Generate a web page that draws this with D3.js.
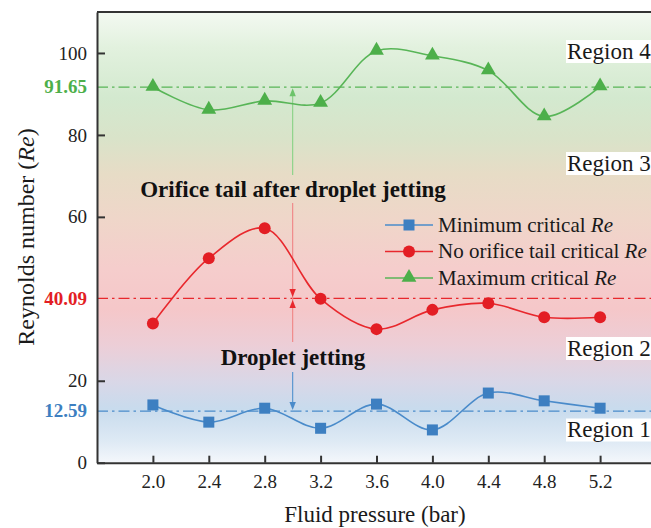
<!DOCTYPE html>
<html>
<head>
<meta charset="utf-8">
<script src="https://cdn.jsdelivr.net/npm/d3@7/dist/d3.min.js"></script>
<style>
  body { margin: 0; background: #fff; }
  text { font-family: "Liberation Serif", "Times New Roman", serif; }
</style>
</head>
<body>
<div id="chart"></div>
<script>
'use strict';

// fluid pressure (bar)
var pressure = [2.0, 2.4, 2.8, 3.2, 3.6, 4.0, 4.4, 4.8, 5.2];
var minRe = [14.1, 9.9, 13.3, 8.4, 14.3, 8.0, 17.0, 15.1, 13.3];
var noTailRe = [34.0, 49.9, 57.2, 40.0, 32.6, 37.3, 38.9, 35.5, 35.5];
var maxRe = [91.7, 86.1, 88.3, 87.8, 100.5, 99.3, 95.7, 84.5, 91.8];
var meanLines = [12.59, 40.09, 91.65];
var yTicks = [0, 20, 60, 80, 100];
var regions = ['Region 4', 'Region 3', 'Region 2', 'Region 1'];
var regionY = [51.5, 163.5, 348.5, 430];

var W = 651, H = 528;
var plotLeft = 97, plotTop = 12, plotRight = 656, plotBottom = 462.7;

var x = d3.scaleLinear().domain([1.6, 5.6]).range([plotLeft, plotRight]);
var y = d3.scaleLinear().domain([0, 110]).range([plotBottom, plotTop]);

var series = [
    { name: 'Minimum critical ', values: minRe, color: '#3d7fc1', line: '#4a8bca', mark: 'square', mean: meanLines[0] },
    { name: 'No orifice tail critical ', values: noTailRe, color: '#e31e24', line: '#e8282d', mark: 'circle', mean: meanLines[1] },
    { name: 'Maximum critical ', values: maxRe, color: '#4daf4a', line: '#58b557', mark: 'triangle', mean: meanLines[2] }
];

var svg = d3.select('#chart').append('svg').attr('width', W).attr('height', H);

// background gradient of the plot
var grad = svg.append('defs').append('linearGradient')
    .attr('id', 'bg').attr('x1', 0).attr('y1', 0).attr('x2', 0).attr('y2', 1);
[
    [0.00, '#f3f9f1'], [0.08, '#e2f1de'], [0.19, '#d3e9cf'], [0.28, '#d9e3c9'],
    [0.36, '#e7dcc6'], [0.46, '#efd6c9'], [0.57, '#f5cdcc'], [0.66, '#f5c7c9'],
    [0.74, '#ecced7'], [0.82, '#d9d7e7'], [0.88, '#c8dbed'], [0.95, '#dde9f4'],
    [1.00, '#f4f7fb']
].forEach(function (s) {
    grad.append('stop').attr('offset', s[0]).attr('stop-color', s[1]);
});

svg.append('rect')
    .attr('x', plotLeft).attr('y', plotTop)
    .attr('width', plotRight - plotLeft).attr('height', plotBottom - plotTop)
    .attr('fill', 'url(#bg)');

// dash-dot mean lines
series.forEach(function (s) {
    svg.append('line')
        .attr('x1', plotLeft).attr('x2', plotRight)
        .attr('y1', y(s.mean)).attr('y2', y(s.mean))
        .attr('stroke', s.line).attr('stroke-width', 1.3)
        .attr('stroke-dasharray', '11,4,2.5,4');
    svg.append('text')
        .attr('x', 87).attr('y', y(s.mean)).attr('dy', '0.33em')
        .attr('text-anchor', 'end')
        .attr('font-size', 19).attr('font-weight', 'bold')
        .attr('fill', s.color)
        .text(s.mean.toFixed(2));
});

// region labels with white boxes
regions.forEach(function (r, i) {
    svg.append('rect')
        .attr('x', 566).attr('y', regionY[i] - 11.5)
        .attr('width', 90).attr('height', 23).attr('fill', '#fff');
    svg.append('text')
        .attr('x', 567).attr('y', regionY[i]).attr('dy', '0.32em')
        .attr('font-size', 23).attr('fill', '#1a1a1a')
        .text(r);
});

// arrows at 3.0 bar
var ax = x(3.0);
function arrowHead(tipY, dir, color) {
    var h = 8, w = 3.2;
    svg.append('path')
        .attr('d', 'M' + ax + ',' + tipY + 'L' + (ax - w) + ',' + (tipY - dir * h) + 'L' + (ax + w) + ',' + (tipY - dir * h) + 'Z')
        .attr('fill', color);
}
svg.append('line').attr('x1', ax).attr('x2', ax).attr('y1', 175).attr('y2', y(meanLines[2]) + 4)
    .attr('stroke', '#8ed38a').attr('stroke-width', 1.2);
arrowHead(y(meanLines[2]) + 1, -1, '#6cc46a');
svg.append('line').attr('x1', ax).attr('x2', ax).attr('y1', 203).attr('y2', 342)
    .attr('stroke', '#f08a8a').attr('stroke-width', 1.2);
arrowHead(y(meanLines[1]) - 1.5, 1, '#e8282d');
arrowHead(y(meanLines[1]) + 1.5, -1, '#e8282d');
svg.append('line').attr('x1', ax).attr('x2', ax).attr('y1', 372).attr('y2', y(meanLines[0]) - 4)
    .attr('stroke', '#5b97d0').attr('stroke-width', 1.2);
arrowHead(y(meanLines[0]) - 1, 1, '#4a8bca');

// annotations
svg.append('text').attr('x', 293).attr('y', 197).attr('text-anchor', 'middle')
    .attr('font-size', 23).attr('font-weight', 'bold').attr('fill', '#111')
    .text('Orifice tail after droplet jetting');
svg.append('text').attr('x', 293).attr('y', 365).attr('text-anchor', 'middle')
    .attr('font-size', 23).attr('font-weight', 'bold').attr('fill', '#111')
    .text('Droplet jetting');

// series lines and markers
var line = d3.line()
    .x(function (d, i) { return x(pressure[i]); })
    .y(function (d) { return y(d); })
    .curve(d3.curveCatmullRom.alpha(0.5));

function marker(g, type, cx, cy, color) {
    if (type === 'square') {
        g.append('rect').attr('x', cx - 5.5).attr('y', cy - 5.5).attr('width', 11).attr('height', 11).attr('fill', color);
    } else if (type === 'circle') {
        g.append('circle').attr('cx', cx).attr('cy', cy).attr('r', 6).attr('fill', color);
    } else {
        g.append('path').attr('d', d3.symbol(d3.symbolTriangle, 95)()).attr('transform', 'translate(' + cx + ',' + (cy - 0.5) + ')').attr('fill', color);
    }
}

series.forEach(function (s) {
    svg.append('path').datum(s.values)
        .attr('d', line).attr('fill', 'none')
        .attr('stroke', s.line).attr('stroke-width', 1.6);
    var g = svg.append('g');
    s.values.forEach(function (v, i) {
        marker(g, s.mark, x(pressure[i]), y(v), s.color);
    });
});

// legend
series.forEach(function (s, i) {
    var ly = 225 + i * 26.5;
    var g = svg.append('g');
    g.append('line').attr('x1', 385).attr('x2', 433).attr('y1', ly).attr('y2', ly)
        .attr('stroke', s.line).attr('stroke-width', 1.6);
    marker(g, s.mark, 409, ly, s.color);
    var t = g.append('text').attr('x', 438).attr('y', ly).attr('dy', '0.33em')
        .attr('font-size', 21).attr('fill', '#1a1a1a');
    t.append('tspan').text(s.name);
    t.append('tspan').attr('font-style', 'italic').text('Re');
});

// frame and axes
svg.append('line').attr('x1', plotLeft).attr('x2', plotRight).attr('y1', plotTop).attr('y2', plotTop)
    .attr('stroke', '#333').attr('stroke-width', 2);

var yAxis = svg.append('g').attr('transform', 'translate(' + plotLeft + ',0)')
    .call(d3.axisLeft(y).tickValues(yTicks).tickSizeInner(-8).tickSizeOuter(0).tickPadding(10));
var xAxis = svg.append('g').attr('transform', 'translate(0,' + plotBottom + ')')
    .call(d3.axisBottom(x).tickValues(pressure).tickFormat(d3.format('.1f')).tickSizeInner(-7).tickSizeOuter(0).tickPadding(12));

[yAxis, xAxis].forEach(function (a) {
    a.select('.domain').attr('stroke', '#333').attr('stroke-width', 2);
    a.selectAll('.tick line').attr('stroke', '#333').attr('stroke-width', 2);
    a.selectAll('.tick text').attr('font-size', 19).attr('fill', '#222')
        .style('font-family', '"Liberation Serif", "Times New Roman", serif');
});

// axis titles
svg.append('text').attr('x', 375).attr('y', 522).attr('text-anchor', 'middle')
    .attr('font-size', 23).attr('fill', '#1a1a1a').text('Fluid pressure (bar)');
var yt = svg.append('text').attr('transform', 'translate(34,237) rotate(-90)')
    .attr('text-anchor', 'middle').attr('font-size', 24).attr('fill', '#1a1a1a');
yt.append('tspan').text('Reynolds number (');
yt.append('tspan').attr('font-style', 'italic').text('Re');
yt.append('tspan').text(')');
</script>
</body>
</html>
